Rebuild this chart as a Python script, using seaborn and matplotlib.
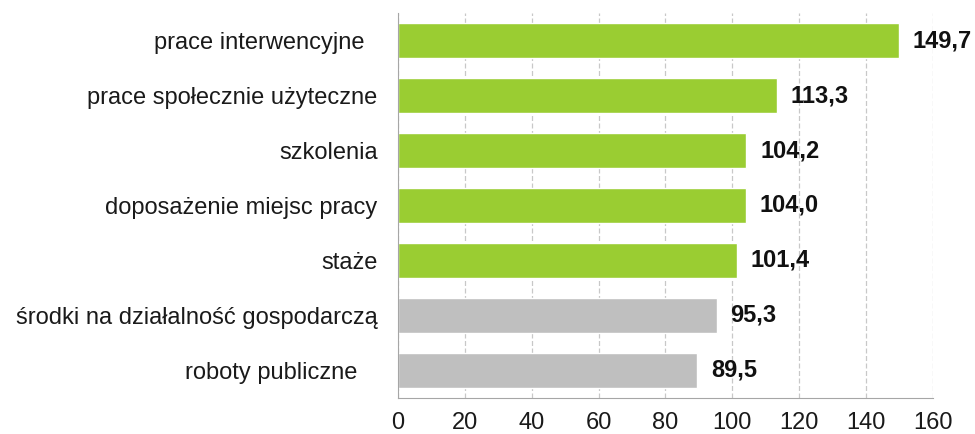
import matplotlib.pyplot as plt
import seaborn as sns
import pandas as pd

# dane
categories = [
    "prace interwencyjne  ",
    "prace społecznie użyteczne",
    "szkolenia",
    "doposażenie miejsc pracy",
    "staże",
    "środki na działalność gospodarczą",
    "roboty publiczne   ",
]
values = [149.7, 113.3, 104.2, 104.0, 101.4, 95.3, 89.5]
groups = ["up", "up", "up", "up", "up", "down", "down"]

df = pd.DataFrame({"kategoria": categories, "wartosc": values, "grupa": groups})
palette = {"up": "#9ACD32", "down": "#BFBFBF"}

sns.set_style("white")
plt.rcParams["font.family"] = ["Liberation Sans", "DejaVu Sans"]

fig = plt.figure(figsize=(9.75, 4.34), dpi=100)
ax = fig.add_axes([0.408, 0.083, 0.549, 0.887])

sns.barplot(
    data=df, x="wartosc", y="kategoria", hue="grupa", palette=palette,
    orient="h", width=0.63, dodge=False, legend=False, saturation=1, ax=ax,
)

ax.set_xlim(0, 160)
ax.set_xticks(range(0, 161, 20))
ax.grid(axis="x", color="#C8C8C8", linestyle=(0, (4, 2)), linewidth=0.9)
ax.set_axisbelow(True)
for s in ["top", "right"]:
    ax.spines[s].set_visible(False)
ax.spines["left"].set_color("#A6A6A6")
ax.spines["bottom"].set_color("#A6A6A6")
ax.tick_params(axis="y", length=0, pad=14.5, labelsize=17, labelcolor="#1A1A1A")
ax.tick_params(axis="x", length=0, pad=10, labelsize=17, labelcolor="#1A1A1A")
ax.set_xlabel("")
ax.set_ylabel("")

for i, v in enumerate(values):
    ax.annotate(f"{v:.1f}".replace(".", ","), (v, i), xytext=(10, 0),
                textcoords="offset points", va="center", ha="left",
                fontsize=17, fontweight="bold", color="#111111")

fig.savefig("out.png", dpi=100)
